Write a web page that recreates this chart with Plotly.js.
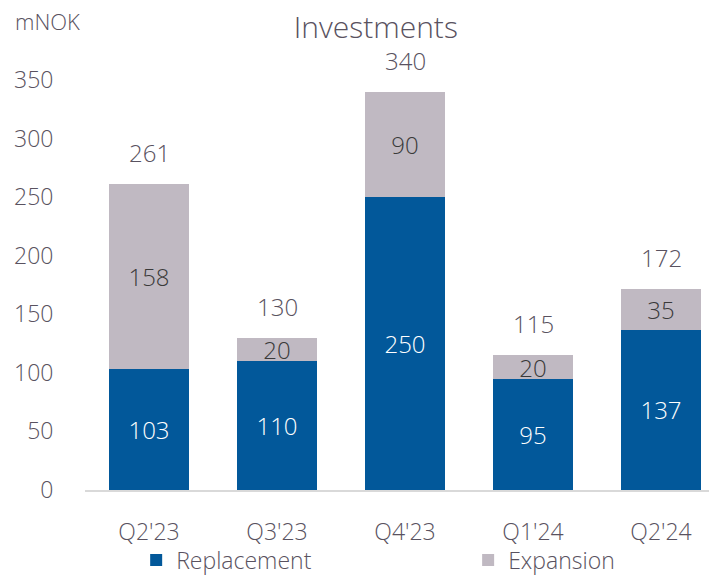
<!DOCTYPE html>
<html>
<head>
<meta charset="utf-8">
<script src="https://cdn.plot.ly/plotly-3.0.1.min.js"></script>
<style>html,body{margin:0;padding:0;background:#fff;}#chart{width:709px;height:576px;}</style>
</head>
<body>
<div id="chart"></div>
<script>
const categories = ["Q2'23", "Q3'23", "Q4'23", "Q1'24", "Q2'24"];
const replacement = [103, 110, 250, 95, 137];
const expansion = [158, 20, 90, 20, 35];
const totals = [261, 130, 340, 115, 172];
const yTicks = [0, 50, 100, 150, 200, 250, 300, 350];

const FONT = "Open Sans, Noto Sans, sans-serif";
const TXT = "#595260";

const traces = [
  {
    type: 'bar', name: 'Replacement', x: categories, y: replacement,
    marker: {color: '#02589A'}, legend: 'legend',
    text: replacement.map(String), textposition: 'inside', insidetextanchor: 'middle',
    textangle: 0, constraintext: 'none',
    textfont: {family: FONT, size: 24, color: '#ffffff', weight: 300},
    hoverinfo: 'none'
  },
  {
    type: 'bar', name: 'Expansion', x: categories, y: expansion,
    marker: {color: '#C0B9C2'}, legend: 'legend2',
    text: expansion.map(String), textposition: 'inside', insidetextanchor: 'middle',
    textangle: 0, constraintext: 'none',
    textfont: {family: FONT, size: 24, color: '#3a3a3a', weight: 300},
    hoverinfo: 'none'
  }
];

const annotations = categories.map((c, i) => ({
  x: c, y: totals[i], xref: 'x', yref: 'y', text: String(totals[i]),
  showarrow: false, yanchor: 'bottom', yshift: 13,
  font: {family: FONT, size: 24, color: TXT, weight: 300}
}));
annotations.push({
  xref: 'paper', yref: 'paper', x: -0.115, y: 1.145, xanchor: 'left', yanchor: 'middle',
  text: 'mNOK', showarrow: false,
  font: {family: FONT, size: 22, color: TXT, weight: 300}
});

const legendBase = {
  orientation: 'h', xanchor: 'left', y: -0.171, yanchor: 'middle',
  font: {family: FONT, size: 23, color: TXT, weight: 300},
  bgcolor: 'rgba(0,0,0,0)'
};

const layout = {
  width: 709, height: 576,
  margin: {l: 85, r: 0, t: 80, b: 86, autoexpand: false},
  paper_bgcolor: '#ffffff', plot_bgcolor: '#ffffff',
  barmode: 'stack', bargap: 0.375,
  title: {text: 'Investments', x: 0.53, xanchor: 'center', y: 0.953, yanchor: 'middle',
          font: {family: FONT, size: 30, color: TXT, weight: 300}},
  xaxis: {
    type: 'category', range: [-0.5, 4.375], fixedrange: true, automargin: false,
    showline: true, linecolor: '#D9D9D9', linewidth: 2,
    ticks: 'outside', ticklen: 20, tickcolor: 'rgba(0,0,0,0)',
    tickfont: {family: FONT, size: 23, color: TXT, weight: 300},
    showgrid: false
  },
  yaxis: {
    range: [0, 350], tickvals: yTicks, ticktext: yTicks.map(String), automargin: false,
    showgrid: false, zeroline: false, showline: false,
    ticks: 'outside', ticklen: 26, tickcolor: 'rgba(0,0,0,0)',
    tickfont: {family: FONT, size: 23, color: TXT, weight: 300}
  },
  showlegend: true,
  legend: Object.assign({}, legendBase, {x: 0.082}),
  legend2: Object.assign({}, legendBase, {x: 0.614}),
  annotations: annotations
};

Plotly.newPlot('chart', traces, layout, {displayModeBar: false, staticPlot: true});
</script>
</body>
</html>
